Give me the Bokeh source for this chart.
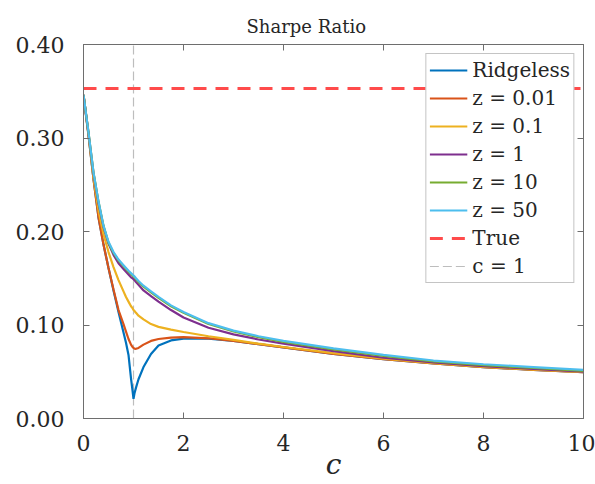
from bokeh.plotting import figure
from bokeh.models import (Range1d, LinearAxis, FixedTicker, PrintfTickFormatter,
                          Legend, LegendItem, Title)
from bokeh.embed import file_html
from bokeh.resources import INLINE

# ---- data ----
c_vals = [0, 0.1, 0.2, 0.3, 0.4, 0.5, 0.6, 0.7, 0.8, 0.85, 0.9, 0.95, 0.98, 1.0,
          1.02, 1.05, 1.1, 1.2, 1.35, 1.5, 1.75, 2.0, 2.5, 3.0, 3.5, 4.0, 5.0,
          6.0, 7.0, 8.0, 9.0, 10.0]

sr_ridgeless = [0.346, 0.303, 0.256, 0.215, 0.186, 0.161, 0.137, 0.114, 0.092,
                0.081, 0.068, 0.043, 0.030, 0.021, 0.027, 0.033, 0.042, 0.055,
                0.069, 0.078, 0.0835, 0.0855, 0.0855, 0.083, 0.0795, 0.076,
                0.069, 0.0635, 0.059, 0.055, 0.052, 0.0495]
sr_z001 = [0.346, 0.303, 0.256, 0.215, 0.186, 0.161, 0.138, 0.116, 0.101, 0.093,
           0.085, 0.079, 0.0765, 0.0755, 0.0748, 0.0745, 0.0755, 0.079, 0.083,
           0.085, 0.0865, 0.087, 0.0858, 0.083, 0.0795, 0.076, 0.069, 0.0635,
           0.059, 0.055, 0.052, 0.0495]
sr_z01 = [0.346, 0.304, 0.258, 0.222, 0.197, 0.178, 0.162, 0.148, 0.136, 0.130,
          0.125, 0.120, 0.118, 0.116, 0.115, 0.113, 0.110, 0.106, 0.101, 0.098,
          0.095, 0.0925, 0.088, 0.084, 0.080, 0.0765, 0.070, 0.064, 0.0593,
          0.0553, 0.0522, 0.0497]
sr_z1 = [0.346, 0.305, 0.262, 0.230, 0.205, 0.187, 0.175, 0.166, 0.160, 0.157,
         0.154, 0.151, 0.150, 0.149, 0.148, 0.146, 0.143, 0.137, 0.131, 0.125,
         0.116, 0.108, 0.097, 0.090, 0.0845, 0.080, 0.072, 0.065, 0.060, 0.056,
         0.053, 0.050]
sr_z10 = [0.346, 0.306, 0.263, 0.232, 0.206, 0.188, 0.177, 0.169, 0.163, 0.160,
          0.157, 0.1545, 0.153, 0.152, 0.151, 0.149, 0.146, 0.141, 0.135, 0.129,
          0.120, 0.113, 0.101, 0.093, 0.087, 0.082, 0.074, 0.067, 0.061, 0.057,
          0.054, 0.051]
sr_z50 = [0.346, 0.306, 0.263, 0.232, 0.206, 0.189, 0.178, 0.170, 0.164, 0.161,
          0.158, 0.1555, 0.154, 0.153, 0.152, 0.150, 0.147, 0.142, 0.136, 0.130,
          0.121, 0.114, 0.102, 0.094, 0.088, 0.083, 0.075, 0.068, 0.062, 0.058,
          0.055, 0.052]
sr_true = 0.353
c_one = 1

series_labels = ["Ridgeless", "z = 0.01", "z = 0.1", "z = 1", "z = 10", "z = 50"]
series_values = [sr_ridgeless, sr_z001, sr_z01, sr_z1, sr_z10, sr_z50]
series_colors = ["#0072BD", "#D95319", "#EDB120", "#7E2F8E", "#77AC30", "#4DBEEE"]

x_ticks = [0, 2, 4, 6, 8, 10]
y_ticks = [0.0, 0.1, 0.2, 0.3, 0.4]

SERIF = "DejaVu Serif"
AX_COLOR = "#6e6e6e"
TXT_COLOR = "#262626"

p = figure(width=595, height=484, output_backend="svg", toolbar_location=None,
           x_range=Range1d(0, 10), y_range=Range1d(0, 0.4),
           min_border_left=83, min_border_right=12, min_border_top=44,
           min_border_bottom=66, x_axis_label="c")
p.title = Title(text="Sharpe Ratio", text_font=SERIF, text_font_size="18px",
                text_font_style="normal", text_color=TXT_COLOR, align="left",
                offset=163, standoff=12, vertical_align="top")
p.grid.visible = False
p.outline_line_color = AX_COLOR
p.background_fill_color = "white"
p.border_fill_color = "white"

for ax, ticks in ((p.xaxis[0], x_ticks), (p.yaxis[0], y_ticks)):
    ax.ticker = FixedTicker(ticks=ticks)
    ax.major_tick_in = 6
    ax.major_tick_out = 0
    ax.minor_tick_in = 0
    ax.minor_tick_out = 0
    ax.axis_line_color = AX_COLOR
    ax.major_tick_line_color = AX_COLOR
    ax.major_label_text_font = SERIF
    ax.major_label_text_font_size = "22px"
    ax.major_label_text_color = TXT_COLOR
p.yaxis[0].formatter = PrintfTickFormatter(format="%.2f")
p.yaxis[0].major_label_standoff = 19
p.xaxis[0].major_label_standoff = 16
p.xaxis[0].axis_label_text_font = SERIF
p.xaxis[0].axis_label_text_font_style = "italic"
p.xaxis[0].axis_label_text_font_size = "28px"
p.xaxis[0].axis_label_text_color = TXT_COLOR
p.xaxis[0].axis_label_standoff = -6

# mirrored axes (ticks only) on top and right
for side, ticks in (("above", x_ticks), ("right", y_ticks)):
    ax = LinearAxis(ticker=FixedTicker(ticks=ticks), major_tick_in=6,
                    major_tick_out=0, minor_tick_in=0, minor_tick_out=0,
                    major_label_overrides={t: "" for t in ticks},
                    major_label_standoff=0,
                    axis_line_color=AX_COLOR, major_tick_line_color=AX_COLOR)
    p.add_layout(ax, side)

# vertical c = 1 reference line (behind curves)
r_c1 = p.line(x=[c_one, c_one], y=[y_ticks[0], y_ticks[-1]], line_color="#bdbdbd",
              line_width=1.2, line_dash="9 4")

renderers = []
for lab, vals, col in zip(series_labels, series_values, series_colors):
    r = p.line(x=c_vals, y=vals, line_color=col, line_width=2.2)
    renderers.append((lab, r))

r_true = p.line(x=[c_vals[0], c_vals[-1]], y=[sr_true, sr_true], line_color="#FF4B4B",
                line_width=3, line_dash="13 9")

items = [LegendItem(label=lab, renderers=[r]) for lab, r in renderers]
items.append(LegendItem(label="True", renderers=[r_true]))
items.append(LegendItem(label="c = 1", renderers=[r_c1]))
legend = Legend(items=items, location="top_right", margin=9, padding=3,
                spacing=2, glyph_width=38, glyph_height=26, label_height=26,
                label_standoff=5, label_text_font=SERIF,
                label_text_font_size="20px", label_text_color=TXT_COLOR,
                border_line_color="#8a8a8a", border_line_width=1,
                background_fill_color="white", background_fill_alpha=1)
p.add_layout(legend)

open("out.html", "w").write(file_html(p, INLINE))
